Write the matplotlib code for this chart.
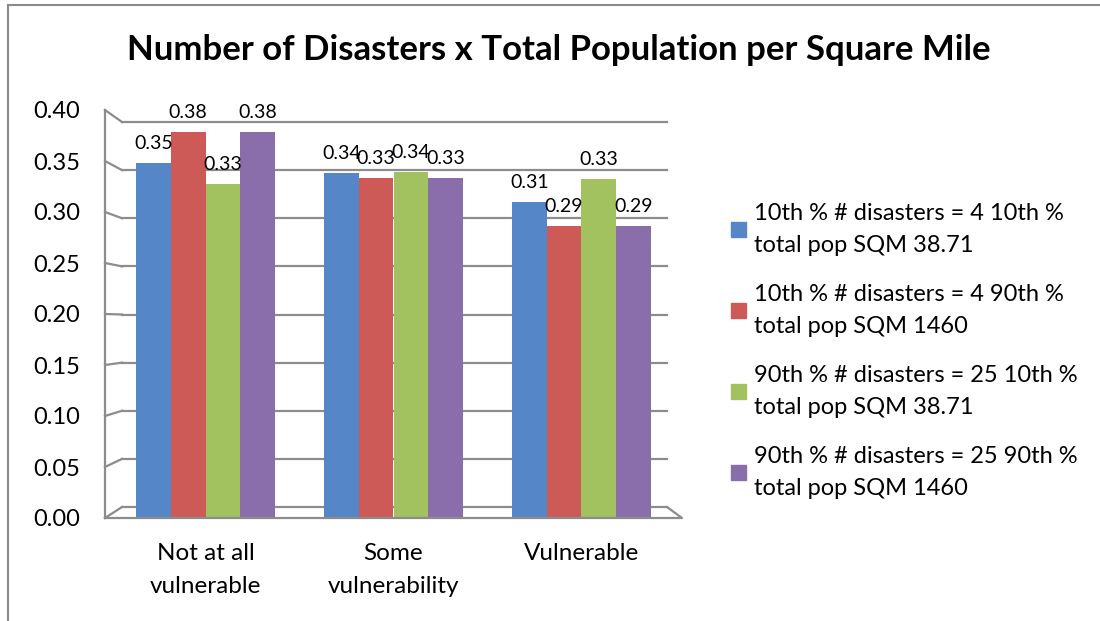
import numpy as np
import matplotlib
matplotlib.use("Agg")
import matplotlib.pyplot as plt
from matplotlib.lines import Line2D

plt.rcParams['font.family'] = ['Lato', 'DejaVu Sans']

# data
categories = ['Not at all\nvulnerable', 'Some\nvulnerability', 'Vulnerable']
series_names = ['10th % # disasters = 4 10th %\ntotal pop SQM 38.71',
                '10th % # disasters = 4 90th %\ntotal pop SQM 1460',
                '90th % # disasters = 25 10th %\ntotal pop SQM 38.71',
                '90th % # disasters = 25 90th %\ntotal pop SQM 1460']
low_low = [0.348, 0.338, 0.310]
low_high = [0.378, 0.333, 0.286]
high_low = [0.327, 0.339, 0.332]
high_high = [0.378, 0.333, 0.286]
series = [low_low, low_high, high_low, high_high]
colors = ['#5587c8', '#cd5a56', '#a2c260', '#8a6dab']
yticks = np.arange(0, 0.401, 0.05)

fig = plt.figure(figsize=(11, 6.21), dpi=100)
ax = fig.add_axes([105 / 1100, 1 - 518 / 621, 577 / 1100, 408 / 621])

x = np.arange(len(categories))
w = 0.185
for i, (vals, col) in enumerate(zip(series, colors)):
    pos = x + (i - 1.5) * w
    bars = ax.bar(pos, vals, w, color=col, zorder=3)
    for b, v in zip(bars, vals):
        ax.annotate(f'{v:.2f}', (b.get_x() + b.get_width() / 2, v),
                    xytext=(0, 8), textcoords='offset points',
                    ha='center', va='bottom', fontsize=14, zorder=5)

ax.set_xlim(-0.535, 2.535)
ax.set_ylim(0, 0.40)
ax.set_yticks(yticks)
ax.set_yticklabels([f'{t:.2f}' for t in yticks], fontsize=17)
ax.set_xticks(x)
ax.set_xticklabels(categories, fontsize=17.5, linespacing=1.72)
ax.tick_params(axis='y', length=0, pad=18)
ax.tick_params(axis='x', length=0, pad=18)
for s in ['top', 'right', 'bottom', 'left']:
    ax.spines[s].set_visible(False)

# pseudo-3D walls (back wall gridlines, side wall slants, floor)
grid_c = '#8c8c8c'
lw = 1.6
bx0, bx1 = 0.0295, 0.974
for t in yticks:
    front = t / 0.40
    back = (11 + 962.5 * t) / 408
    ax.add_line(Line2D([0, bx0], [front, back], transform=ax.transAxes,
                       color=grid_c, lw=lw, zorder=1, clip_on=False))
    ax.add_line(Line2D([bx0, bx1], [back, back], transform=ax.transAxes,
                       color=grid_c, lw=lw, zorder=1, clip_on=False))
ax.add_line(Line2D([0, 0], [0, 1], transform=ax.transAxes,
                   color=grid_c, lw=lw, zorder=1, clip_on=False))
ax.add_line(Line2D([0, 1, bx1], [0, 0, 11 / 408], transform=ax.transAxes,
                   color=grid_c, lw=lw, zorder=4, clip_on=False))

fig.text(559 / 1100, 1 - 50 / 621, 'Number of Disasters x Total Population per Square Mile',
         ha='center', va='center', fontsize=25, fontweight='bold')

handles = [plt.Rectangle((0, 0), 1, 1, color=c) for c in colors]
leg = fig.legend(handles, series_names, loc='upper left',
                 bbox_to_anchor=(722 / 1100, 1 - 194 / 621), frameon=False,
                 fontsize=17, handlelength=0.6, handleheight=0.6,
                 handletextpad=0.35, labelspacing=1.22, borderaxespad=0)
for t in leg.get_texts():
    t.set_linespacing(1.6)

# outer frame (top and left edges visible)
fig.add_artist(Line2D([8 / 1100, 1], [1 - 5 / 621, 1 - 5 / 621],
                      transform=fig.transFigure, color='#8a8a8a', lw=1.5))
fig.add_artist(Line2D([8 / 1100, 8 / 1100], [0, 1 - 5 / 621],
                      transform=fig.transFigure, color='#8a8a8a', lw=1.5))

fig.savefig('out.png', dpi=100)
